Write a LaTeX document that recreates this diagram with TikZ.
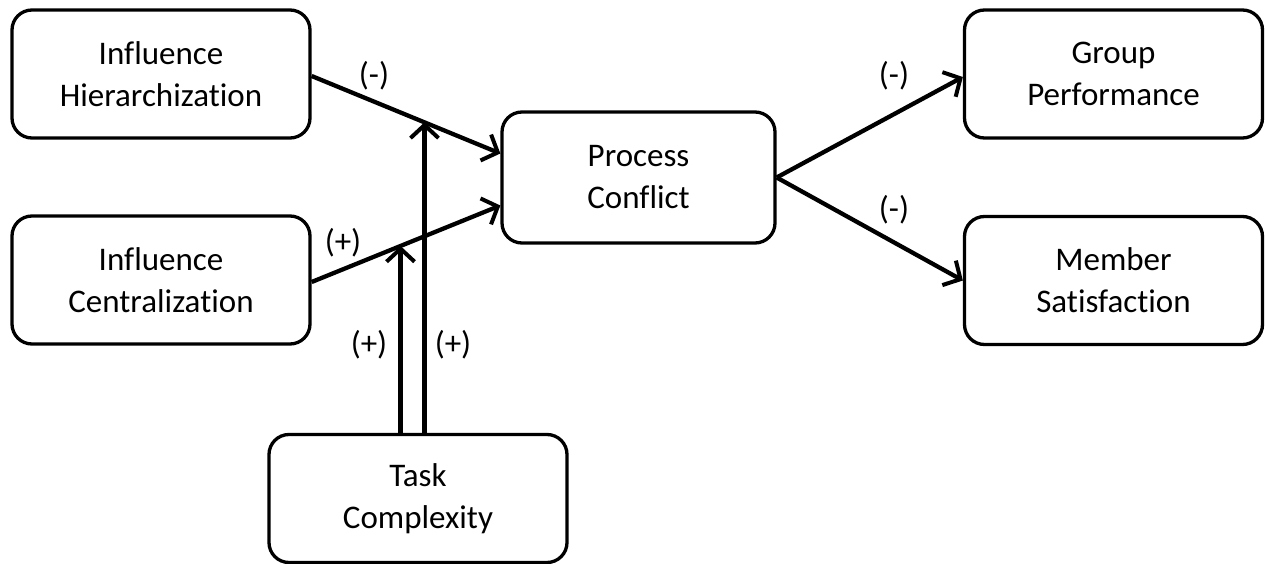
\documentclass[tikz,border=0pt]{standalone}
\usepackage{fontspec}
\setmainfont{Carlito}[Ligatures={NoCommon,NoRequired,NoContextual}]
\usetikzlibrary{arrows.meta,calc}
\begin{document}
\begin{tikzpicture}[x=1pt,y=-1pt,
  box/.style={draw,line width=3.3pt,rounded corners=20pt,minimum width=298pt,minimum height=128pt,inner sep=0pt,align=center,font=\fontsize{33}{42}\selectfont},
  conn/.style={line width=4.3pt,-{Straight Barb[length=13pt,width=28pt,line width=4pt]}},
  lbl/.style={inner sep=0pt,font=\fontsize{33}{40}\selectfont}]
\useasboundingbox (0,0) rectangle (1265,564);
\node[box] (hier) at (161,74) {Influence\\Hierarchization};
\node[box] (cent) at (161,280) {Influence\\Centralization};
\node[box,minimum width=273pt,minimum height=131pt] (proc) at (638.5,177.5) {Process\\Conflict};
\node[box] (perf) at (1113.5,74) {Group\\Performance};
\node[box] (sat) at (1113.5,280.5) {Member\\Satisfaction};
\node[box] (task) at (418,498.5) {Task\\Complexity};
\draw[conn] ([yshift=-2pt]hier.east) -- ([yshift=24pt]proc.west);
\draw[conn] ([yshift=-2pt]cent.east) -- ([yshift=-28pt]proc.west);
\path ([yshift=-2pt]hier.east) -- ([yshift=24pt]proc.west) coordinate[pos=0.598] (m1);
\path ([yshift=-2pt]cent.east) -- ([yshift=-28pt]proc.west) coordinate[pos=0.471] (m2);
\draw[conn] (m1 |- task.north) -- (m1);
\draw[conn] (m2 |- task.north) -- (m2);
\draw[conn] (proc.east) -- ([yshift=-3pt]perf.west);
\draw[conn] (proc.east) -- (sat.west);
\node[lbl] (l1) at (374,76) {(-)};
\node[lbl] (l2) at (343,243) {(+)};
\node[lbl] (l3) at (369,345) {(+)};
\node[lbl] (l4) at (453,345) {(+)};
\node[lbl] (l5) at (894,76) {(-)};
\node[lbl] (l6) at (894,210) {(-)};
\end{tikzpicture}
\end{document}
